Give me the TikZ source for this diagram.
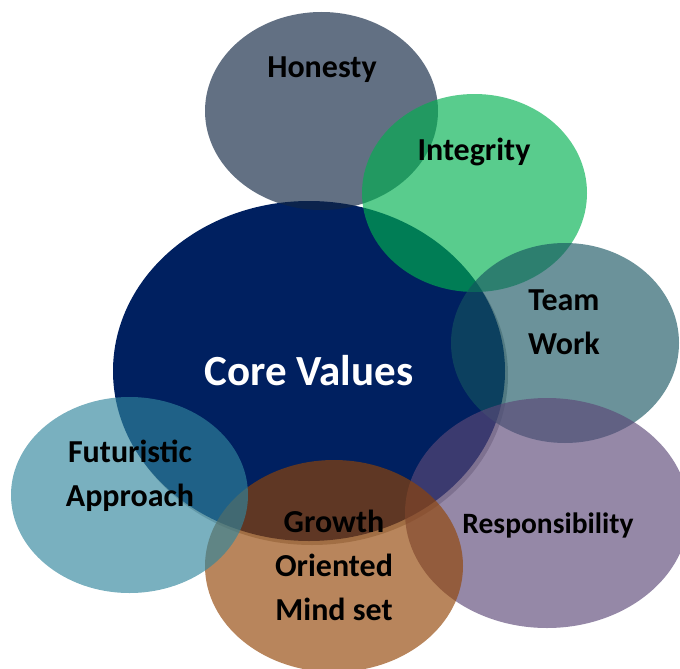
\documentclass[tikz,border=0pt]{standalone}
\usepackage{fontspec}
\setmainfont{Carlito}
\definecolor{corecol}{HTML}{002060}
\definecolor{shadowcol}{HTML}{BEBEBE}
\definecolor{honcol}{HTML}{112643}
\definecolor{intcol}{HTML}{00B050}
\definecolor{teamcol}{HTML}{14535F}
\definecolor{respcol}{HTML}{5C4878}
\definecolor{growcol}{HTML}{924404}
\definecolor{futcol}{HTML}{31859C}
\begin{document}
\begin{tikzpicture}[x=1pt,y=-1pt]
\tikzset{
  blob/.style={fill=#1, fill opacity=0.65},
  lbl/.style={font=\bfseries\fontsize{32}{44}\selectfont, align=center, text=black, inner sep=0pt},
  corelbl/.style={font=\bfseries\fontsize{43}{50}\selectfont, text=white, inner sep=0pt}
}
\useasboundingbox (0,0) rectangle (680,669);
\clip (0,0) rectangle (680,669);
% core with shadow
\fill[shadowcol] (312,375) ellipse [x radius=196, y radius=170];
\fill[corecol] (309,371) ellipse [x radius=196, y radius=170];
% surrounding values
\fill[blob=honcol, fill opacity=0.66] (321.5,111) ellipse [x radius=116.5, y radius=99];
\fill[blob=intcol] (474.5,193) ellipse [x radius=112.5, y radius=99];
\fill[blob=teamcol, fill opacity=0.63] (565,343) ellipse [x radius=114, y radius=100];
\fill[blob=respcol] (547,513) ellipse [x radius=142, y radius=115];
\fill[blob=growcol] (334,566) ellipse [x radius=129, y radius=106];
\fill[blob=futcol] (129.5,495) ellipse [x radius=118.5, y radius=98];
% labels
\node[corelbl] (core) at (309,371) {Core Values};
\node[lbl] (hon) at (322,70) {Honesty};
\node[lbl] (int) at (474,152) {Integrity};
\node[lbl] (team) at (564,322) {Team\\Work};
\node[lbl, font=\bfseries\fontsize{29.5}{44}\selectfont] (resp) at (548,525) {Responsibility};
\node[lbl] (grow) at (334,565) {Growth\\Oriented\\Mind set};
\node[lbl] (fut) at (130,476) {Futuristic\\Approach};
\end{tikzpicture}
\end{document}
